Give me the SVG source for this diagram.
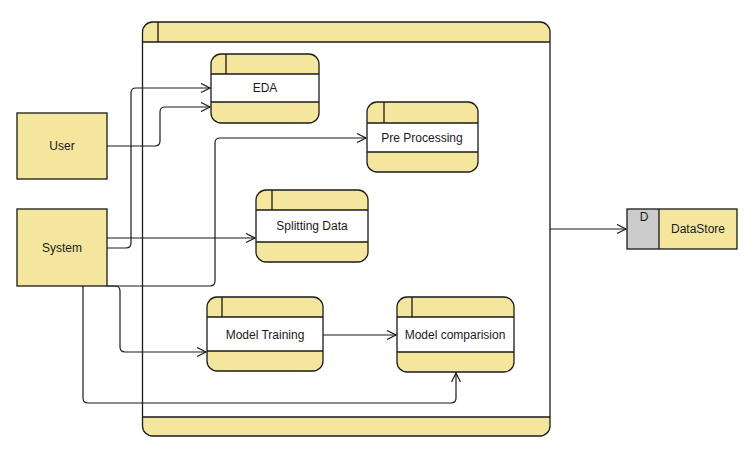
<svg xmlns="http://www.w3.org/2000/svg" width="754" height="457" viewBox="0 0 754 457">
<style>
.y{fill:#F4E79D}
.o{fill:none;stroke:#1a1a1a;stroke-width:1.3}
.w{fill:#fff}
.l{stroke:#1a1a1a;stroke-width:1.3;fill:none}
text{font-family:"Liberation Sans",Arial,sans-serif;font-size:12px;fill:#1a1a1a;text-anchor:middle}
.c{fill:none;stroke:#1a1a1a;stroke-width:1.2;marker-end:url(#a)}
</style>
<defs>
<marker id="a" markerUnits="userSpaceOnUse" markerWidth="12" markerHeight="12" refX="10" refY="5" orient="auto">
<path d="M1,0.5 L10,5 L1,9.5" fill="none" stroke="#1a1a1a" stroke-width="1.2"/>
</marker>
</defs>
<rect width="754" height="457" fill="#fff"/>
<g id="container">
<rect class="y" x="142.5" y="22" width="407.5" height="414" rx="10"/>
<rect class="w" x="142.5" y="42" width="407.5" height="375"/>
<rect class="o" x="142.5" y="22" width="407.5" height="414" rx="10"/>
<path class="l" d="M142.5,42 H550 M142.5,417 H550 M158,22 V42"/>
</g>
<g id="user">
<rect class="y" x="17" y="113" width="90" height="66" stroke="#1a1a1a" stroke-width="1.3"/>
<text x="62" y="150">User</text>
</g>
<g id="system">
<rect class="y" x="17" y="209" width="90" height="77" stroke="#1a1a1a" stroke-width="1.3"/>
<text x="62" y="252">System</text>
</g>
<g id="eda">
<rect class="y" x="211" y="54" width="108" height="69" rx="10"/>
<rect class="w" x="211" y="74" width="108" height="28"/>
<rect class="o" x="211" y="54" width="108" height="69" rx="10"/>
<path class="l" d="M211,74 H319 M211,102 H319 M226,54 V74"/>
<text x="265" y="92">EDA</text>
</g>
<g id="preprocessing">
<rect class="y" x="367" y="102" width="111" height="70" rx="10"/>
<rect class="w" x="367" y="123" width="111" height="29"/>
<rect class="o" x="367" y="102" width="111" height="70" rx="10"/>
<path class="l" d="M367,123 H478 M367,152 H478 M384,102 V123"/>
<text x="422" y="142">Pre Processing</text>
</g>
<g id="splitting">
<rect class="y" x="256" y="190" width="112" height="72" rx="10"/>
<rect class="w" x="256" y="210" width="112" height="32"/>
<rect class="o" x="256" y="190" width="112" height="72" rx="10"/>
<path class="l" d="M256,210 H368 M256,242 H368 M272,190 V210"/>
<text x="312" y="230">Splitting Data</text>
</g>
<g id="modeltraining">
<rect class="y" x="207" y="297" width="116" height="74" rx="10"/>
<rect class="w" x="207" y="317" width="116" height="34"/>
<rect class="o" x="207" y="297" width="116" height="74" rx="10"/>
<path class="l" d="M207,317 H323 M207,351 H323 M222,297 V317"/>
<text x="265" y="339">Model Training</text>
</g>
<g id="modelcomparision">
<rect class="y" x="397" y="297" width="117" height="75" rx="10"/>
<rect class="w" x="397" y="317" width="117" height="35"/>
<rect class="o" x="397" y="297" width="117" height="75" rx="10"/>
<path class="l" d="M397,317 H514 M397,352 H514 M412,297 V317"/>
<text x="455" y="339">Model comparision</text>
</g>
<g id="datastore">
<rect class="y" x="627" y="209" width="110" height="40"/>
<rect x="627" y="209" width="32" height="40" fill="#CCCCCC"/>
<rect class="o" x="627" y="209" width="110" height="40"/>
<path class="l" d="M659,209 V249"/>
<text x="644" y="221">D</text>
<text x="698" y="233">DataStore</text>
</g>
<g id="connectors">
<path class="c" d="M107,146 H155 Q160,146 160,141 V112 Q160,107 165,107 H210"/>
<path class="c" d="M107,248 H126 Q131,248 131,243 V93 Q131,88 136,88 H210"/>
<path class="c" d="M107,238 H255"/>
<path class="c" d="M107,286 H210 Q215,286 215,281 V143 Q215,138 220,138 H366"/>
<path class="c" d="M107,286 H115 Q120,286 120,291 V347 Q120,352 125,352 H206"/>
<path class="c" d="M83,286 V398 Q83,403 88,403 H451 Q456,403 456,398 V373"/>
<path class="c" d="M323,335 H396"/>
<path class="c" d="M550,229 H626"/>
</g>
</svg>
